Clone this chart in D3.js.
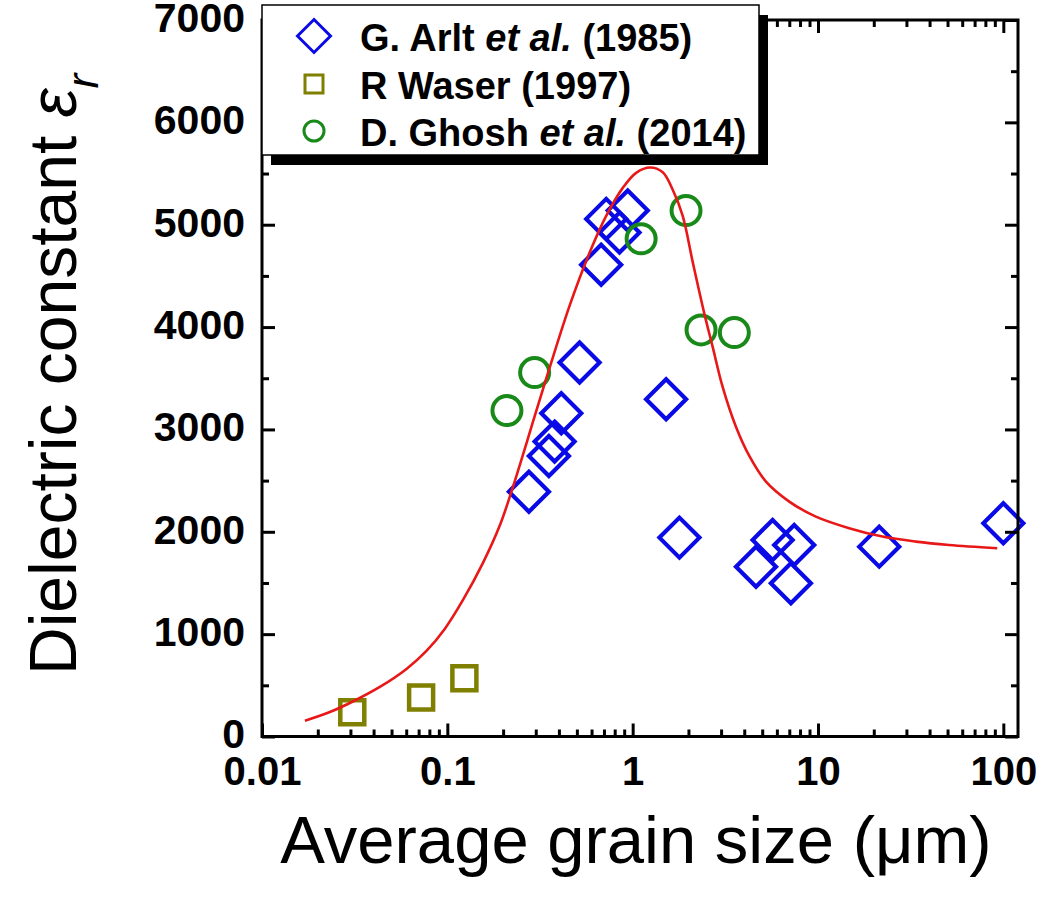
<!DOCTYPE html>
<html>
<head>
<meta charset="utf-8">
<script src="https://cdn.jsdelivr.net/npm/d3@7"></script>
<style>
  html, body { margin: 0; padding: 0; background: #fff; }
  svg { display: block; }
  text { font-family: "Liberation Sans", Arial, sans-serif; }
</style>
</head>
<body>
<svg id="chart" width="1050" height="897"></svg>
<script>
// ---- Data ----
const arltX = [0.2756, 0.3532, 0.3791, 0.4119, 0.517, 0.676, 0.720, 0.849, 0.941, 1.515, 1.788, 4.63, 5.69, 7.14, 7.44, 21.4, 100];
const arltY = [2392, 2741, 2881, 3158, 3653, 4608, 5057, 4923, 5138, 3295, 1943, 1659, 1920, 1497, 1871, 1855, 2083];

const waserX = [0.0307, 0.0722, 0.1236];
const waserY = [237, 381, 569];

const ghoshX = [0.2097, 0.2958, 1.111, 1.941, 2.339, 3.537];
const ghoshY = [3184, 3555, 4862, 5138, 3972, 3946];

const fitX = [0.01705, 0.02324, 0.03093, 0.04323, 0.06021, 0.07716, 0.09683, 0.1215, 0.1557, 0.1916, 0.2215, 0.2558, 0.2896, 0.3562, 0.4565, 0.5852, 0.7198, 0.8845, 1.044, 1.242, 1.453, 1.645, 1.862, 2.108, 2.438, 2.702, 3.058, 3.612, 4.259, 5.240, 6.997, 9.74, 14.73, 22.26, 33.7, 50.9, 92.7];
const fitY = [154, 239, 342, 484, 660, 836, 1051, 1334, 1696, 2058, 2389, 2751, 3074, 3601, 4207, 4725, 5086, 5360, 5507, 5559, 5512, 5341, 5086, 4637, 4129, 3806, 3415, 3024, 2741, 2490, 2295, 2148, 2035, 1953, 1904, 1871, 1839];

const xMajorTicks = [0.01, 0.1, 1, 10, 100];
const xTickLabels = ["0.01", "0.1", "1", "10", "100"];
const yMajorTicks = [0, 1000, 2000, 3000, 4000, 5000, 6000, 7000];
const yMinorTicks = [500, 1500, 2500, 3500, 4500, 5500, 6500];

const legendLabels = [
  ["G. Arlt ", "et al.", " (1985)"],
  ["R Waser (1997)", "", ""],
  ["D. Ghosh ", "et al.", " (2014)"]
];

// ---- Layout ----
const L = 262, R = 1018, T = 20, B = 736.5;
const svg = d3.select("#chart");

const x = d3.scaleLog().domain([0.01, 120]).range([L, R]);
const y = d3.scaleLinear().domain([0, 7000]).range([B, T]);

const xMinorTicks = [];
[0.01, 0.1, 1, 10].forEach(d => { for (let k = 2; k <= 9; k++) xMinorTicks.push(d * k); });

const BLUE = "#0a0ae6", OLIVE = "#7f7f00", GREEN = "#198a19", RED = "#e81818";

// ---- Markers ----
const gm = svg.append("g");
const diamond = (cx, cy, h) => `M${cx},${cy - h}L${cx + h},${cy}L${cx},${cy + h}L${cx - h},${cy}Z`;

gm.selectAll("path.arlt").data(arltX.map((d, i) => [d, arltY[i]])).join("path")
  .attr("d", d => diamond(x(d[0]), y(d[1]), 20))
  .attr("fill", "none").attr("stroke", BLUE).attr("stroke-width", 4.2);

gm.selectAll("rect.waser").data(waserX.map((d, i) => [d, waserY[i]])).join("rect")
  .attr("x", d => x(d[0]) - 12).attr("y", d => y(d[1]) - 12)
  .attr("width", 24).attr("height", 24)
  .attr("fill", "none").attr("stroke", OLIVE).attr("stroke-width", 4.5);

gm.selectAll("circle.ghosh").data(ghoshX.map((d, i) => [d, ghoshY[i]])).join("circle")
  .attr("cx", d => x(d[0])).attr("cy", d => y(d[1])).attr("r", 14.5)
  .attr("fill", "none").attr("stroke", GREEN).attr("stroke-width", 4);

// ---- Fit curve ----
const line = d3.line().x(d => x(d[0])).y(d => y(d[1])).curve(d3.curveCatmullRom.alpha(0.5));
svg.append("path").datum(fitX.map((d, i) => [d, fitY[i]]))
  .attr("d", line).attr("fill", "none").attr("stroke", RED).attr("stroke-width", 2.6);

// ---- Axes ----
const styleAxis = g => {
  g.select(".domain").remove();
  g.selectAll(".tick line").attr("stroke", "#000").attr("stroke-width", 3);
  g.selectAll(".tick text").attr("fill", "#000").attr("font-weight", "bold")
    .attr("font-family", '"Liberation Sans", Arial, sans-serif');
};

// bottom
svg.append("g").attr("transform", `translate(0,${B})`)
  .call(d3.axisBottom(x).tickValues(xMajorTicks).tickSize(-13).tickPadding(20)
    .tickFormat((d, i) => xTickLabels[i]))
  .call(styleAxis)
  .call(g => g.selectAll(".tick text").attr("font-size", 40));
svg.append("g").attr("transform", `translate(0,${B})`)
  .call(d3.axisBottom(x).tickValues(xMinorTicks).tickSize(-7).tickFormat(""))
  .call(styleAxis);
// top
svg.append("g").attr("transform", `translate(0,${T})`)
  .call(d3.axisTop(x).tickValues(xMajorTicks).tickSize(-13).tickFormat(""))
  .call(styleAxis);
svg.append("g").attr("transform", `translate(0,${T})`)
  .call(d3.axisTop(x).tickValues(xMinorTicks).tickSize(-7).tickFormat(""))
  .call(styleAxis);
// left
svg.append("g").attr("transform", `translate(${L},0)`)
  .call(d3.axisLeft(y).tickValues(yMajorTicks).tickSize(-13).tickPadding(17).tickFormat(d3.format("d")))
  .call(styleAxis)
  .call(g => g.selectAll(".tick text").attr("font-size", 41).attr("dy", "0.28em"));
svg.append("g").attr("transform", `translate(${L},0)`)
  .call(d3.axisLeft(y).tickValues(yMinorTicks).tickSize(-7).tickFormat(""))
  .call(styleAxis);
// right
svg.append("g").attr("transform", `translate(${R},0)`)
  .call(d3.axisRight(y).tickValues(yMajorTicks).tickSize(-13).tickFormat(""))
  .call(styleAxis);
svg.append("g").attr("transform", `translate(${R},0)`)
  .call(d3.axisRight(y).tickValues(yMinorTicks).tickSize(-7).tickFormat(""))
  .call(styleAxis);

// frame
svg.append("rect").attr("x", L).attr("y", T).attr("width", R - L).attr("height", B - T)
  .attr("fill", "none").attr("stroke", "#000").attr("stroke-width", 3);

// ---- Axis titles ----
svg.append("text").attr("x", 636).attr("y", 863).attr("text-anchor", "middle")
  .attr("font-size", 67).attr("fill", "#000").text("Average grain size (\u03BCm)");

const yt = svg.append("text").attr("transform", "translate(76,675) rotate(-90)")
  .attr("text-anchor", "start").attr("font-size", 66).attr("fill", "#000");
yt.append("tspan").text("Dielectric constant ");
yt.append("tspan").attr("font-style", "italic").text("\u03B5");
yt.append("tspan").attr("font-style", "italic").attr("font-size", 44).attr("dy", 22).text("r");

// ---- Legend ----
const lg = svg.append("g");
lg.append("rect").attr("x", 271).attr("y", 15).attr("width", 497).attr("height", 150).attr("fill", "#000");
lg.append("rect").attr("x", 262).attr("y", 5).attr("width", 497).attr("height", 150)
  .attr("fill", "#fff").attr("stroke", "#000").attr("stroke-width", 1.5);

const rowsY = [36, 84, 131];
lg.append("path").attr("d", diamond(314, rowsY[0], 16.5)).attr("fill", "none").attr("stroke", BLUE).attr("stroke-width", 3);
lg.append("rect").attr("x", 314 - 9).attr("y", rowsY[1] - 9).attr("width", 18).attr("height", 18)
  .attr("fill", "none").attr("stroke", OLIVE).attr("stroke-width", 3);
lg.append("circle").attr("cx", 314).attr("cy", rowsY[2]).attr("r", 10)
  .attr("fill", "none").attr("stroke", GREEN).attr("stroke-width", 3);

legendLabels.forEach((parts, i) => {
  const t = lg.append("text").attr("x", 360).attr("y", rowsY[i] + 15)
    .attr("font-size", 38).attr("font-weight", "bold").attr("fill", "#000");
  t.append("tspan").text(parts[0]);
  if (parts[1]) t.append("tspan").attr("font-style", "italic").text(parts[1]);
  if (parts[2]) t.append("tspan").text(parts[2]);
});
</script>
</body>
</html>
